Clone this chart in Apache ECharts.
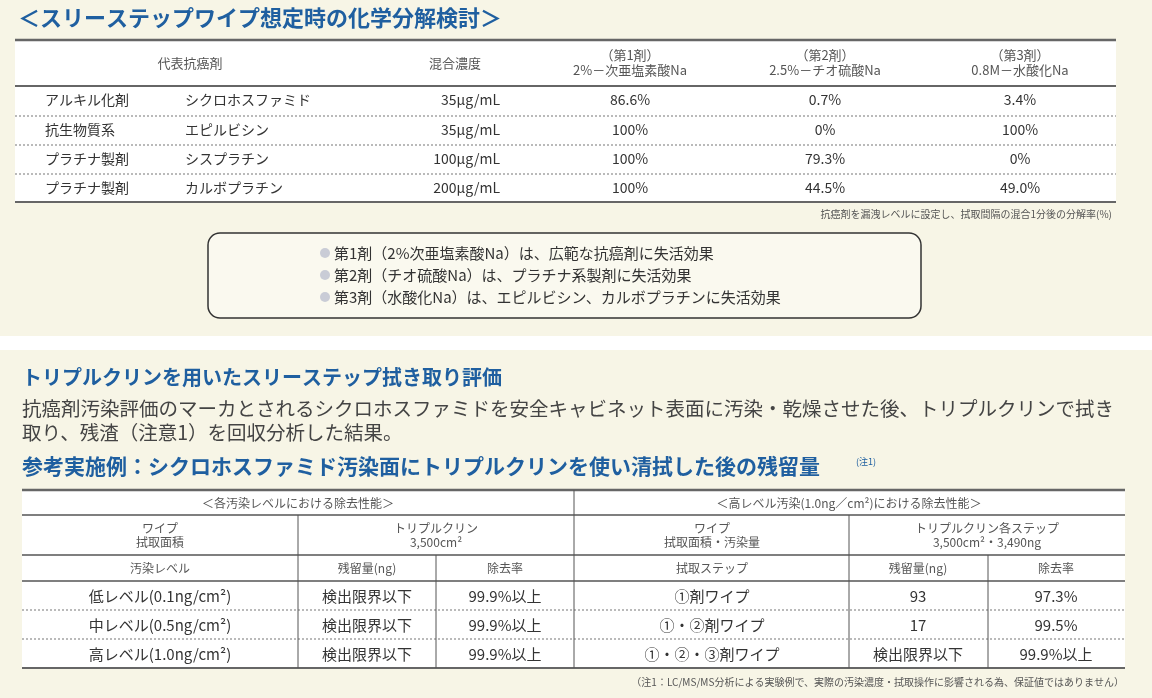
<!DOCTYPE html>
<html><head><meta charset="utf-8">
<script src="https://cdn.jsdelivr.net/npm/echarts@6/dist/echarts.min.js"></script>
<style>html,body{margin:0;padding:0;background:#f7f5e6}#main{width:1152px;height:698px}</style>
</head><body><div id="main"></div>
<script>
// 上の表
var topHeader = ['代表抗癌剤', '混合濃度', '（第1剤）\n2%－次亜塩素酸Na', '（第2剤）\n2.5%－チオ硫酸Na', '（第3剤）\n0.8M－水酸化Na'];
var topClass = ['アルキル化剤', '抗生物質系', 'プラチナ製剤', 'プラチナ製剤'];
var topDrug = ['シクロホスファミド', 'エピルビシン', 'シスプラチン', 'カルボプラチン'];
var topConc = ['35μg/mL', '35μg/mL', '100μg/mL', '200μg/mL'];
var topRate1 = ['86.6%', '100%', '100%', '100%'];
var topRate2 = ['0.7%', '0%', '79.3%', '44.5%'];
var topRate3 = ['3.4%', '100%', '0%', '49.0%'];
var topNote = '抗癌剤を漏洩レベルに設定し、拭取間隔の混合1分後の分解率(%)';
var boxLines = ['第1剤（2%次亜塩素酸Na）は、広範な抗癌剤に失活効果', '第2剤（チオ硫酸Na）は、プラチナ系製剤に失活効果', '第3剤（水酸化Na）は、エピルビシン、カルボプラチンに失活効果'];

// 下の表
var secHeader = ['＜各汚染レベルにおける除去性能＞', '＜高レベル汚染(1.0ng／cm²)における除去性能＞'];
var subHeader = ['ワイプ\n拭取面積', 'トリプルクリン\n3,500cm²', 'ワイプ\n拭取面積・汚染量', 'トリプルクリン各ステップ\n3,500cm²・3,490ng'];
var colHeader = ['汚染レベル', '残留量(ng)', '除去率', '拭取ステップ', '残留量(ng)', '除去率'];
var levels = ['低レベル(0.1ng/cm²)', '中レベル(0.5ng/cm²)', '高レベル(1.0ng/cm²)'];
var residA = ['検出限界以下', '検出限界以下', '検出限界以下'];
var rateA = ['99.9%以上', '99.9%以上', '99.9%以上'];
var steps = ['①剤ワイプ', '①・②剤ワイプ', '①・②・③剤ワイプ'];
var residB = ['93', '17', '検出限界以下'];
var rateB = ['97.3%', '99.5%', '99.9%以上'];
var bottomNote = '（注1：LC/MS/MS分析による実験例で、実際の汚染濃度・拭取操作に影響される為、保証値ではありません）';

var FONT = '"Noto Sans CJK JP", sans-serif';
var g = [];
function txt(x, y, s, size, color, align, weight) {
    g.push({type: 'text', x: x, y: y, style: {text: s, fill: color || '#333', font: (weight || 'normal') + ' ' + (size || 14) + 'px ' + FONT, align: align || 'center', verticalAlign: 'middle', lineHeight: (size || 14) + 2}});
}
function ln(x1, y1, x2, y2, w, color, dash) {
    g.push({type: 'line', shape: {x1: x1, y1: y1, x2: x2, y2: y2}, style: {stroke: color || '#555', lineWidth: w || 1, lineDash: dash || null}});
}
function rect(x, y, w, h, fill, r, stroke) {
    g.push({type: 'rect', shape: {x: x, y: y, width: w, height: h, r: r || 0}, style: {fill: fill, stroke: stroke || null, lineWidth: stroke ? 1.5 : 0}});
}

// 背景
rect(0, 336, 1152, 14, '#ffffff');
// 上タイトル
txt(18, 18, '＜スリーステップワイプ想定時の化学分解検討＞', 22, '#1f5fa0', 'left', 'bold');
rect(15, 40, 1101, 162, '#ffffff');
ln(15, 40, 1116, 40, 2.5, '#666');
ln(15, 86, 1116, 86, 2, '#666');
ln(15, 202, 1116, 202, 2, '#666');
[116, 145, 174].forEach(function (y) { ln(15, y, 1116, y, 1, '#777', [2, 2]); });
var topX = [190, 455, 630, 825, 1020];
topHeader.forEach(function (h, i) { txt(topX[i], 63, h, 13, '#555'); });
var rowY = [100, 130, 159, 188];
rowY.forEach(function (y, i) {
    txt(45, y, topClass[i], 14, '#333', 'left');
    txt(185, y, topDrug[i], 14, '#333', 'left');
    txt(500, y, topConc[i], 14, '#333', 'right');
    txt(630, y, topRate1[i], 14);
    txt(825, y, topRate2[i], 14);
    txt(1020, y, topRate3[i], 14);
});
txt(1112, 214, topNote, 10, '#555', 'right');
rect(208, 233, 713, 85, '#faf9ef', 12, '#333');
boxLines.forEach(function (s, i) {
    var y = 253 + i * 22;
    g.push({type: 'circle', shape: {cx: 325, cy: y, r: 5}, style: {fill: '#c9ccd6'}});
    txt(334, y, s, 15, '#333', 'left');
});

// 下
txt(22, 377, 'トリプルクリンを用いたスリーステップ拭き取り評価', 20, '#1f5fa0', 'left', 'bold');
txt(22, 409, '抗癌剤汚染評価のマーカとされるシクロホスファミドを安全キャビネット表面に汚染・乾燥させた後、トリプルクリンで拭き', 19.5, '#444', 'left');
txt(22, 433, '取り、残渣（注意1）を回収分析した結果。', 19.5, '#444', 'left');
txt(22, 466, '参考実施例：シクロホスファミド汚染面にトリプルクリンを使い清拭した後の残留量', 21, '#1f5fa0', 'left', 'bold');
txt(856, 462, '(注1)', 9, '#1f5fa0', 'left');

var L = 22, R = 1125;
rect(L, 490, R - L, 178, '#ffffff');
ln(L, 490, R, 490, 2.5, '#666');
ln(L, 515, R, 515, 1.5, '#555');
ln(L, 555, R, 555, 1.5, '#555');
ln(L, 581, R, 581, 1.5, '#555');
ln(L, 668, R, 668, 2, '#666');
[610, 639].forEach(function (y) { ln(L, y, R, y, 1, '#777', [2, 2]); });
ln(574, 490, 574, 668, 1, '#555');
ln(298, 515, 298, 668, 1, '#555');
ln(849, 515, 849, 668, 1, '#555');
ln(436, 555, 436, 668, 1, '#555');
ln(988, 555, 988, 668, 1, '#555');
txt(298, 503, secHeader[0], 12, '#555');
txt(849, 503, secHeader[1], 12, '#555');
var subX = [160, 436, 712, 987];
subHeader.forEach(function (s, i) { txt(subX[i], 535, s, 12, '#555'); });
var colX = [160, 367, 505, 712, 918, 1056];
colHeader.forEach(function (s, i) { txt(colX[i], 568, s, 12, '#555'); });
[596, 625, 654].forEach(function (y, i) {
    txt(colX[0], y, levels[i], 15);
    txt(colX[1], y, residA[i], 15);
    txt(colX[2], y, rateA[i], 15);
    txt(colX[3], y, steps[i], 15);
    txt(colX[4], y, residB[i], 15);
    txt(colX[5], y, rateB[i], 15);
});
txt(1124, 682, bottomNote, 10, '#555', 'right');

var chart = echarts.init(document.getElementById('main'));
chart.setOption({backgroundColor: '#f7f5e6', graphic: g});
</script></body></html>
